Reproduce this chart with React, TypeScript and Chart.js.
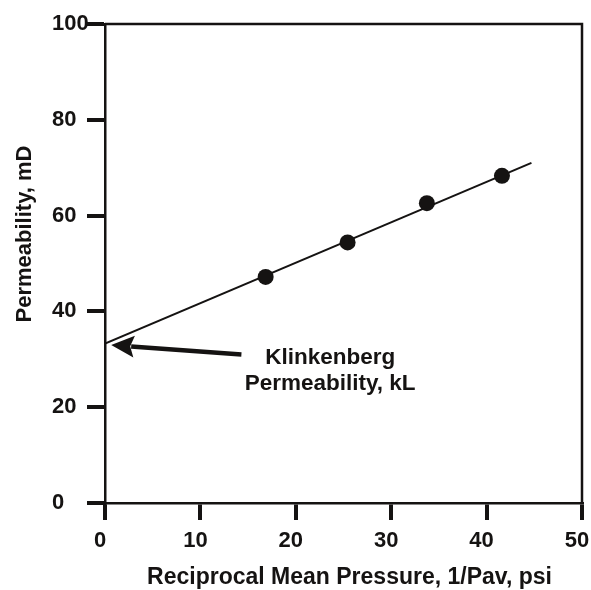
import React, { useEffect, useRef } from "react";
import { Chart, registerables } from "chart.js";

Chart.register(...registerables);

// ---- data ----
const reciprocalPressure = [16.84, 25.43, 33.74, 41.61];
const permeability = [47.2, 54.4, 62.6, 68.3];
const fitLineX = [0, 44.7];
const fitLineY = [33.3, 71.0];
const xTickValues = [0, 10, 20, 30, 40, 50];
const yTickValues = [0, 20, 40, 60, 80, 100];
const arrowTail = [14.3, 31.0];
const arrowTip = [0.65, 33.0];
const noteAnchor = [23.6, 29.1];
const noteLines = ["Klinkenberg", "Permeability, kL"];
const xTitle = "Reciprocal Mean Pressure, 1/Pav, psi";
const yTitle = "Permeability, mD";

const INK = "#151312";
const FONT_FAMILY = "'Liberation Sans', Arial, Helvetica, sans-serif";

const overlay = {
  id: "overlay",
  afterDraw(chart: any) {
    const { ctx, chartArea: a, scales } = chart;
    const x = scales.x;
    const y = scales.y;
    ctx.save();
    // frame top + right
    ctx.strokeStyle = INK;
    ctx.lineWidth = 2.5;
    ctx.beginPath();
    ctx.moveTo(a.left, a.top);
    ctx.lineTo(a.right, a.top);
    ctx.lineTo(a.right, a.bottom);
    ctx.stroke();

    // arrow
    const tx = x.getPixelForValue(arrowTip[0]);
    const ty = y.getPixelForValue(arrowTip[1]);
    const sx = x.getPixelForValue(arrowTail[0]);
    const sy = y.getPixelForValue(arrowTail[1]);
    const ang = Math.atan2(ty - sy, tx - sx);
    const c = Math.cos(ang);
    const s = Math.sin(ang);
    const headLen = 23;
    const headHalf = 11;
    const bx = tx - headLen * c;
    const by = ty - headLen * s;
    ctx.fillStyle = INK;
    ctx.lineWidth = 4.5;
    ctx.lineCap = "butt";
    ctx.beginPath();
    ctx.moveTo(sx, sy);
    ctx.lineTo(bx + 3 * c, by + 3 * s);
    ctx.stroke();
    ctx.beginPath();
    ctx.moveTo(tx, ty);
    ctx.lineTo(bx - headHalf * s, by + headHalf * c);
    ctx.lineTo(bx + 4 * c, by + 4 * s);
    ctx.lineTo(bx + headHalf * s, by - headHalf * c);
    ctx.closePath();
    ctx.fill();

    // annotation text
    ctx.font = `bold 22.5px ${FONT_FAMILY}`;
    ctx.textAlign = "center";
    ctx.textBaseline = "alphabetic";
    const nx = x.getPixelForValue(noteAnchor[0]);
    const ny = y.getPixelForValue(noteAnchor[1]);
    noteLines.forEach((line, i) => ctx.fillText(line, nx, ny + i * 26));

    // axis titles
    ctx.font = `bold 23px ${FONT_FAMILY}`;
    ctx.fillText(xTitle, 349.5, 584);
    ctx.font = `bold 22px ${FONT_FAMILY}`;
    ctx.translate(24.5, 234);
    ctx.rotate(-Math.PI / 2);
    ctx.textBaseline = "middle";
    ctx.fillText(yTitle, 0, 0);
    ctx.restore();
  },
};

export default function App() {
  const ref = useRef<HTMLCanvasElement | null>(null);

  useEffect(() => {
    if (!ref.current) return;
    const tickFont = { family: FONT_FAMILY, size: 22, weight: "bold" as const };
    const chart = new Chart(ref.current, {
      type: "scatter",
      data: {
        datasets: [
          {
            label: "Measured",
            data: reciprocalPressure.map((v, i) => ({ x: v, y: permeability[i] })),
            pointRadius: 8,
            pointHoverRadius: 8,
            pointBackgroundColor: INK,
            pointBorderColor: INK,
            pointBorderWidth: 0,
            showLine: false,
          },
          {
            label: "Fit",
            data: fitLineX.map((v, i) => ({ x: v, y: fitLineY[i] })),
            showLine: true,
            borderColor: INK,
            borderWidth: 2,
            pointRadius: 0,
            pointHoverRadius: 0,
          },
        ],
      },
      options: {
        responsive: false,
        animation: false,
        devicePixelRatio: 1,
        layout: { padding: { left: 52, top: 24, right: 9, bottom: 0 } },
        plugins: {
          legend: { display: false },
          tooltip: { enabled: false },
          title: { display: false },
        },
        scales: {
          x: {
            type: "linear",
            min: 0,
            max: 50,
            afterBuildTicks: (s: any) => {
              s.ticks = xTickValues.map((v) => ({ value: v }));
            },
            afterFit: (s: any) => {
              s.height = 87;
              s.paddingLeft = 0;
              s.paddingRight = 0;
            },
            ticks: {
              font: tickFont,
              color: INK,
              padding: 8,
              labelOffset: -5,
              maxRotation: 0,
              autoSkip: false,
            },
            grid: {
              drawOnChartArea: false,
              tickLength: 17,
              lineWidth: 4,
              color: INK,
            },
            border: { display: true, color: INK, width: 2.5 },
          },
          y: {
            type: "linear",
            min: 0,
            max: 100,
            afterBuildTicks: (s: any) => {
              s.ticks = yTickValues.map((v) => ({ value: v }));
            },
            afterFit: (s: any) => {
              s.width = 53;
              s.paddingTop = 0;
              s.paddingBottom = 0;
            },
            ticks: {
              font: tickFont,
              color: INK,
              padding: 0,
              crossAlign: "far",
              autoSkip: false,
            },
            grid: {
              drawOnChartArea: false,
              tickLength: 18,
              lineWidth: 4,
              color: INK,
            },
            border: { display: true, color: INK, width: 2.5 },
          },
        },
      },
      plugins: [overlay],
    });
    return () => chart.destroy();
  }, []);

  return (
    <div style={{ position: "absolute", left: 0, top: 0, width: 591, height: 590, background: "#fff" }}>
      <canvas ref={ref} width={591} height={590} style={{ display: "block" }} />
    </div>
  );
}
